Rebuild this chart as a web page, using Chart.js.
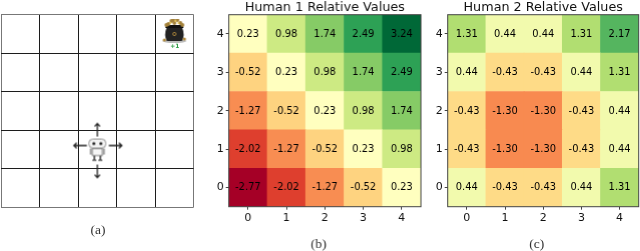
<!DOCTYPE html>
<html><head><meta charset="utf-8">
<script src="https://cdn.jsdelivr.net/npm/chart.js@4"></script>
<style>
html,body{margin:0;padding:0;background:#fff;width:640px;height:251px;overflow:hidden}
.p{position:absolute;top:0;height:251px;filter:blur(0.45px)}
</style></head><body>
<div class="p" style="left:0;width:205px"><canvas id="a"></canvas></div>
<div class="p" style="left:205px;width:238.7px"><canvas id="b"></canvas></div>
<div class="p" style="left:425px;width:236.4px"><canvas id="c"></canvas></div>
<script>
const categories = ['0','1','2','3','4'];
const rowLabels = [0,1,2,3,4];
// rows listed from y=0 upward
const human1Row0 = [-2.77,-2.02,-1.27,-0.52,0.23];
const human1Row1 = [-2.02,-1.27,-0.52,0.23,0.98];
const human1Row2 = [-1.27,-0.52,0.23,0.98,1.74];
const human1Row3 = [-0.52,0.23,0.98,1.74,2.49];
const human1Row4 = [0.23,0.98,1.74,2.49,3.24];
const human2Row0 = [0.44,-0.43,-0.43,0.44,1.31];
const human2Row1 = [-0.43,-1.30,-1.30,-0.43,0.44];
const human2Row2 = [-0.43,-1.30,-1.30,-0.43,0.44];
const human2Row3 = [0.44,-0.43,-0.43,0.44,1.31];
const human2Row4 = [1.31,0.44,0.44,1.31,2.17];
const titleB = 'Human 1 Relative Values', titleC = 'Human 2 Relative Values';
const agentCell = [{x:2.5,y:1.5}], goalCell = [{x:4.5,y:4.5}];
const goalLabel = '+1';

const stops = ['#a50026','#d73027','#f46d43','#fdae61','#fee08b','#ffffbf','#d9ef8b','#a6d96a','#66bd63','#1a9850','#006837'];
const vmin = -2.77, vmax = 3.24;
function hex(c){return [1,3,5].map(i=>parseInt(c.slice(i,i+2),16));}
function cmap(v){
  const t=Math.max(0,Math.min(1,(v-vmin)/(vmax-vmin)))*10, i=Math.min(9,Math.floor(t)), f=t-i;
  const a=hex(stops[i]), b=hex(stops[i+1]);
  return 'rgb('+a.map((x,k)=>Math.round(x+(b[k]-x)*f)).join(',')+')';
}
const sans = 'DejaVu Sans', serif = 'Liberation Serif';
const spine = {id:'spine',afterDatasetsDraw(ch){
  const a=ch.chartArea,c=ch.ctx;c.save();c.strokeStyle='#444';c.lineWidth=1;
  c.strokeRect(a.left,a.top,a.right-a.left,a.bottom-a.top);c.restore();}};
const cellText = {id:'cellText',afterDatasetsDraw(ch){
  const c=ch.ctx;c.save();c.font='9.9px "'+sans+'"';c.fillStyle='#000';c.textAlign='center';c.textBaseline='middle';
  ch.data.datasets.forEach(ds=>ds.values.forEach((v,i)=>{
    c.fillText(v.toFixed(2),ch.scales.x.getPixelForValue(i),ch.scales.y.getPixelForValue(ds.row)+0.3);
  }));c.restore();}};
function captionPlugin(text,x,y){return {id:'caption',afterDraw(ch){
  const c=ch.ctx;c.save();c.font='13.5px "'+serif+'"';c.fillStyle='#333';c.textAlign='center';c.textBaseline='middle';
  c.fillText(text,x,y);c.restore();}};}
function heat(id,title,rows,caption,leftW,capX){
  new Chart(document.getElementById(id),{
    type:'bar',
    data:{labels:categories,datasets:rows.map((r,k)=>({
      row:rowLabels[k],values:r,
      data:r.map(()=>[rowLabels[k]-0.5,rowLabels[k]+0.5]),
      backgroundColor:r.map(cmap),borderWidth:0,borderSkipped:false,
      barPercentage:1,categoryPercentage:1}))},
    options:{responsive:true,maintainAspectRatio:false,animation:false,devicePixelRatio:1,
      layout:{autoPadding:false,padding:{left:0,right:0,top:0,bottom:0}},
      plugins:{legend:{display:false},tooltip:{enabled:false},
        title:{display:true,text:title,color:'#111',font:{family:sans,size:12.75,weight:'normal',lineHeight:1},padding:{top:1.5,bottom:0.45}}},
      scales:{
        x:{stacked:true,offset:true,
          grid:{display:true,drawOnChartArea:false,tickLength:3,color:'#444',offset:false},
          border:{display:false},
          ticks:{color:'#111',font:{family:sans,size:11},padding:2,maxRotation:0,autoSkip:false},
          afterBuildTicks(s){s.ticks=categories.map((_,i)=>({value:i}));},
          afterFit(s){s.height=44.3;}},
        y:{min:-0.5,max:4.5,
          afterBuildTicks(s){s.ticks=rowLabels.map(v=>({value:v}));},
          grid:{display:true,drawOnChartArea:false,tickLength:3,color:'#444'},
          border:{display:false},
          ticks:{color:'#111',font:{family:sans,size:11},padding:2,callback:v=>String(v)},
          afterFit(s){s.width=leftW;}},
        yPad:{position:'right',min:0,max:1,ticks:{display:false},grid:{display:false},border:{display:false},
          afterFit(s){s.width=leftW;}}
      }},
    plugins:[cellText,spine,captionPlugin(caption,capX,244)]});
}
heat('b',titleB,[human1Row0,human1Row1,human1Row2,human1Row3,human1Row4],'(b)',23.7,113);
heat('c',titleC,[human2Row0,human2Row1,human2Row2,human2Row3,human2Row4],'(c)',22.7,111.7);

function sprite(w,h,draw){const s=document.createElement('canvas');s.width=w;s.height=h;const c=s.getContext('2d');c.translate(w/2,h/2);draw(c);return s;}
function arrow(c,x0,y0,x1,y1){
  const an=Math.atan2(y1-y0,x1-x0),L=4;
  c.beginPath();c.moveTo(x0,y0);c.lineTo(x1,y1);
  c.moveTo(x1-L*Math.cos(an-0.75),y1-L*Math.sin(an-0.75));c.lineTo(x1,y1);c.lineTo(x1-L*Math.cos(an+0.75),y1-L*Math.sin(an+0.75));
  c.stroke();
}
const robot = sprite(60,64,c=>{
  c.strokeStyle='#222';c.lineWidth=1.3;
  arrow(c,0,-13,0,-26);arrow(c,0,15,0,28);arrow(c,-10.5,-4,-23.5,-4);arrow(c,11.5,-4,24.5,-4);
  c.lineWidth=0.8;c.strokeStyle='#777';c.fillStyle='#f2f2f2';
  c.beginPath();c.roundRect(-8.5,-10.5,17,9,4);c.fill();c.stroke();
  c.fillStyle='#222';c.beginPath();c.arc(-3.5,-6,1.5,0,7);c.arc(3.5,-6,1.5,0,7);c.fill();
  c.fillStyle='#f6f6f6';c.strokeStyle='#666';
  c.fillRect(-5,-1,10,7);c.strokeRect(-5,-1,10,7);
  c.fillStyle='#999';c.fillRect(-7.5,-1,2,6);c.fillRect(5.5,-1,2,6);
  c.fillStyle='#666';c.fillRect(-4,6,2,4);c.fillRect(2,6,2,4);
  c.fillStyle='#444';c.fillRect(-5,10,4,1.3);c.fillRect(1,10,4,1.3);
});
const pot = sprite(30,30,c=>{
  c.fillStyle='#bbb';c.beginPath();c.ellipse(0,7,12,2,0,0,7);c.fill();
  c.fillStyle='#222';c.beginPath();c.moveTo(-7.5,-7);c.lineTo(7.5,-7);c.quadraticCurveTo(11,1,7.5,7);c.lineTo(-7.5,7);c.quadraticCurveTo(-11,1,-7.5,-7);c.fill();
  c.fillStyle='#111';c.fillRect(-9,-9,18,3);
  c.fillStyle='#a3813a';[[-6,-10],[-3,-13],[0,-11],[3,-14],[6,-11],[-1,-14],[8,-9],[-8,-9]].forEach(p=>{c.beginPath();c.arc(p[0],p[1],1.9,0,7);c.fill();});
  c.fillStyle='#e2c04e';[[-4,-11],[1,-13],[4,-11]].forEach(p=>{c.beginPath();c.arc(p[0],p[1],1,0,7);c.fill();});
  c.fillStyle='#b08a3c';[[-10,6],[10,5]].forEach(p=>{c.beginPath();c.arc(p[0],p[1],1.6,0,7);c.fill();});
  c.strokeStyle='#b08a3c';c.lineWidth=0.9;c.beginPath();c.arc(0,0,1.6,0,7);c.stroke();
});
const goalText = {id:'goalText',afterDatasetsDraw(ch){
  const c=ch.ctx,p=goalCell[0];c.save();c.font='bold 6px "'+sans+'"';c.fillStyle='#2e9e46';c.textAlign='center';c.textBaseline='middle';
  c.fillText(goalLabel,ch.scales.x.getPixelForValue(p.x)+0.4,ch.scales.y.getPixelForValue(p.y)+12);c.restore();}};
const gridAxis = ()=>({min:0,max:5,
  afterBuildTicks(s){s.ticks=[0,1,2,3,4,5].map(v=>({value:v}));},
  grid:{display:true,drawTicks:false,color:(ctx)=>(ctx.tick.value===0||ctx.tick.value===5)?'#777':'#1c1c1c',lineWidth:1},
  border:{display:false}});
new Chart(document.getElementById('a'),{
  type:'scatter',
  data:{datasets:[
    {data:agentCell,pointStyle:robot,pointRadius:10},
    {data:goalCell,pointStyle:pot,pointRadius:10}]},
  options:{responsive:true,maintainAspectRatio:false,animation:false,devicePixelRatio:1,
    layout:{autoPadding:false,padding:{left:0,right:11.3,top:14.7,bottom:0}},
    plugins:{legend:{display:false},tooltip:{enabled:false}},
    scales:{
      x:Object.assign(gridAxis(),{ticks:{display:false},
        afterFit(s){s.height=43.7;}}),
      y:Object.assign(gridAxis(),{ticks:{display:false},afterFit(s){s.width=1;}})
    }},
  plugins:[goalText,captionPlugin('(a)',98,230)]});
</script></body></html>
